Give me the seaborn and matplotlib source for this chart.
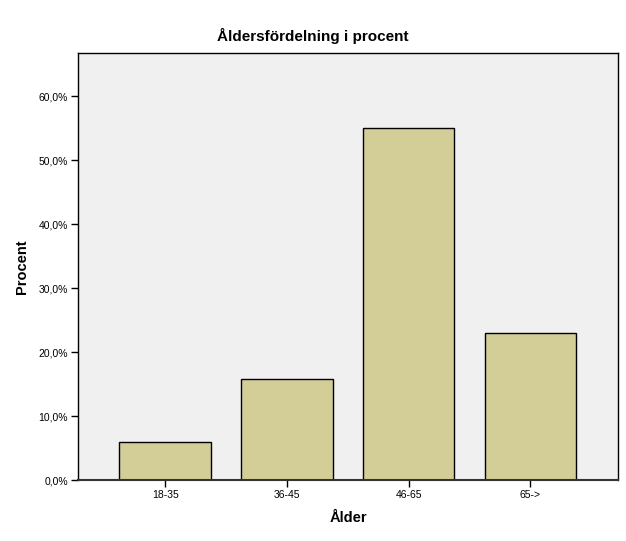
import matplotlib
matplotlib.use("Agg")
import matplotlib.pyplot as plt
import seaborn as sns
import pandas as pd
from matplotlib.ticker import FuncFormatter

categories = ["18-35", "36-45", "46-65", "65->"]
percent = [6.0, 15.9, 55.0, 23.0]
y_ticks = [0, 10, 20, 30, 40, 50, 60]

df = pd.DataFrame({"Ålder": categories, "Procent": percent})

sns.set_style("white")
plt.rcParams["font.family"] = ["Liberation Sans", "DejaVu Sans"]
plt.rcParams["text.color"] = "black"
plt.rcParams["xtick.color"] = "black"
plt.rcParams["ytick.color"] = "black"
plt.rcParams["axes.labelcolor"] = "black"

fig = plt.figure(figsize=(6.26, 5.41), dpi=100)
ax = fig.add_axes([77.5 / 626, 1 - 480.3 / 541, (618 - 77.5) / 626, (480.3 - 53.3) / 541])
ax.set_facecolor("#f0f0f0")

sns.barplot(data=df, x="Ålder", y="Procent", order=categories, color="#d3ce98",
            saturation=1, width=0.75, edgecolor="black", linewidth=1, ax=ax)

ax.set_xlim(-0.72, 3.72)
ax.set_ylim(0, 66.7)
ax.set_yticks(y_ticks)
ax.yaxis.set_major_formatter(FuncFormatter(lambda v, p: f"{v:.1f}%".replace(".", ",")))
ax.tick_params(axis="both", which="both", direction="out", length=5, width=1,
               color="black", labelcolor="black", labelsize=7.5, left=True, bottom=True, pad=2)
for s in ax.spines.values():
    s.set_color("black")
    s.set_linewidth(1)
ax.spines["bottom"].set_color("#333333")
ax.spines["bottom"].set_linewidth(1.5)

ax.set_xlabel("")
ax.set_ylabel("")
fig.text(348 / 626, 1 - 518 / 541, "Ålder", ha="center", va="center",
         fontsize=10.5, fontweight="bold", color="black")
fig.text(22 / 626, 1 - 267 / 541, "Procent", ha="center", va="center",
         rotation=90, fontsize=10.5, fontweight="bold", color="black")
fig.text(313 / 626, 1 - 36 / 541, "Åldersfördelning i procent", ha="center", va="center",
         fontsize=11, fontweight="bold", color="black")

fig.savefig("out.png", dpi=100, facecolor="white")
